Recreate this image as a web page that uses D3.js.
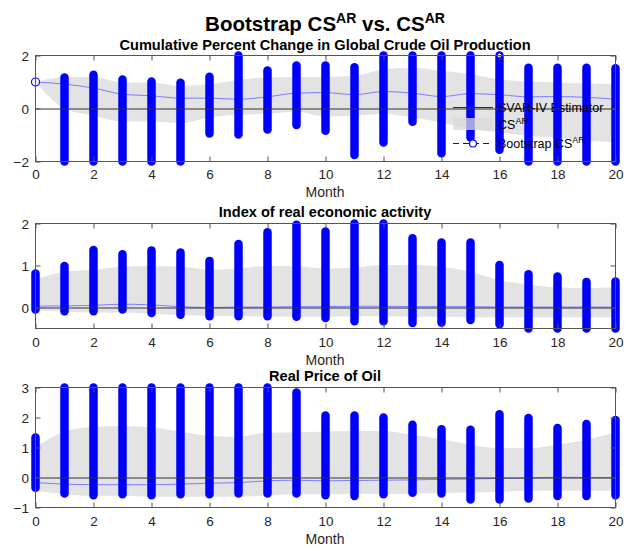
<!DOCTYPE html>
<html><head><meta charset="utf-8">
<script src="https://d3js.org/d3.v7.min.js"></script>
<style>body{margin:0;background:#fff;}svg{display:block;font-family:"Liberation Sans",Arial,Helvetica,sans-serif;}</style>
</head><body>
<svg id="c" width="626" height="551"></svg>
<script>
const months = d3.range(0, 21);
const xTicks = [0,2,4,6,8,10,12,14,16,18,20];

// Panel 1: Cumulative Percent Change in Global Crude Oil Production
const p1Title = "Cumulative Percent Change in Global Crude Oil Production";
const p1YTicks = [-2, 0, 2];
const p1Est = [1.0,0.92,0.77,0.54,0.48,0.39,0.39,0.35,0.44,0.58,0.60,0.52,0.64,0.58,0.45,0.56,0.52,0.44,0.45,0.42,0.35];
const p1BandHi = [1.0,1.18,1.19,0.98,0.98,0.85,0.92,1.08,1.17,1.19,1.2,1.23,1.48,1.54,1.42,1.29,1.1,1.02,0.98,0.94,0.92];
const p1BandLo = [1.0,0.0,-0.27,-0.49,-0.49,-0.55,-0.34,-0.24,-0.2,-0.12,-0.3,-0.27,-0.21,-0.34,-0.53,-0.78,-0.9,-1.03,-1.11,-1.21,-1.28];
const p1BootHi = [null,1.17,1.27,1.09,1.02,0.97,1.20,2.3,1.43,1.62,1.62,1.56,2.3,2.3,2.3,2.3,2.0,1.54,1.54,1.54,1.52];
const p1BootLo = [null,-2.5,-2.5,-2.5,-2.5,-2.5,-0.94,-0.98,-0.79,-0.62,-0.84,-1.75,-1.28,-0.5,-1.69,-1.09,-1.56,-2.5,-2.5,-2.5,-2.5];
const p1Points = [{m:0, v:1.0}, {m:16, v:2.0}];

// Panel 2: Index of real economic activity
const p2Title = "Index of real economic activity";
const p2YTicks = [0, 1, 2];
const p2Est = [0.03,0.04,0.05,0.08,0.06,0.02,0.0,0.01,0.01,0.02,0.02,0.03,0.03,0.02,0.02,0.02,0.01,0.01,0.01,0.01,0.01];
const p2BandHi = [0.67,0.85,0.9,0.97,0.98,0.97,0.9,0.93,0.99,0.98,0.93,0.95,1.01,1.01,0.97,0.85,0.65,0.55,0.48,0.46,0.48];
const p2BandLo = [-0.06,-0.1,-0.12,-0.12,-0.15,-0.18,-0.2,-0.2,-0.22,-0.22,-0.22,-0.21,-0.21,-0.22,-0.22,-0.23,-0.23,-0.23,-0.23,-0.23,-0.23];
const p2BootHi = [0.81,0.99,1.37,1.27,1.36,1.31,1.11,1.51,1.79,1.97,1.81,2.1,2.1,1.65,1.55,1.55,1.01,0.79,0.74,0.61,0.62];
const p2BootLo = [-0.05,-0.09,-0.09,-0.05,-0.13,-0.17,-0.21,-0.21,-0.21,-0.22,-0.25,-0.33,-0.33,-0.37,-0.36,-0.30,-0.40,-0.6,-0.6,-0.6,-0.6];

// Panel 3: Real Price of Oil
const p3Title = "Real Price of Oil";
const p3YTicks = [-1, 0, 1, 2, 3];
const p3Est = [-0.17,-0.22,-0.24,-0.24,-0.24,-0.22,-0.19,-0.17,-0.11,-0.09,-0.11,-0.1,-0.09,-0.08,-0.06,-0.05,-0.03,-0.02,0.01,0.0,0.0];
const p3BandHi = [1.0,1.53,1.69,1.72,1.67,1.53,1.39,1.36,1.5,1.5,1.53,1.55,1.55,1.42,1.28,1.09,0.98,0.98,1.09,1.26,1.5];
const p3BandLo = [-0.44,-0.56,-0.61,-0.61,-0.64,-0.64,-0.64,-0.64,-0.61,-0.56,-0.56,-0.55,-0.55,-0.54,-0.52,-0.5,-0.48,-0.44,-0.44,-0.44,-0.44];
const p3BootHi = [1.33,3.2,3.2,3.2,3.2,3.2,3.2,3.2,3.2,2.83,2.07,2.07,2.0,1.76,1.61,1.59,2.11,1.98,1.65,1.78,1.92];
const p3BootLo = [-0.34,-0.53,-0.59,-0.56,-0.59,-0.56,-0.56,-0.53,-0.53,-0.53,-0.59,-0.62,-0.56,-0.51,-0.53,-0.73,-0.73,-0.70,-0.62,-0.62,-0.59];

const legendLabels = ["SVAR-IV Estimator", "CS", "Bootstrap CS"];

const panels = [
  {title:p1Title, top:55, bottom:161, dom:[-2,2], ticks:p1YTicks, est:p1Est, hi:p1BandHi, lo:p1BandLo, bhi:p1BootHi, blo:p1BootLo, pts:p1Points, legend:true, titleY:50, tickY:178, labY:197},
  {title:p2Title, top:223, bottom:328, dom:[-0.5,2], ticks:p2YTicks, est:p2Est, hi:p2BandHi, lo:p2BandLo, bhi:p2BootHi, blo:p2BootLo, pts:[], legend:false, titleY:217, tickY:346, labY:365},
  {title:p3Title, top:387, bottom:507, dom:[-1,3], ticks:p3YTicks, est:p3Est, hi:p3BandHi, lo:p3BandLo, bhi:p3BootHi, blo:p3BootLo, pts:[], legend:false, titleY:381, tickY:525, labY:544}
];

const svg = d3.select("#c");
const x = d3.scaleLinear().domain([0,20]).range([35.5,615.5]);
const axisCol = "#555";
const textCol = "#262626";

// main title
const mt = svg.append("text").attr("x", 325).attr("y", 30.5).attr("text-anchor","middle")
  .attr("font-size", 20.5).attr("font-weight","bold").attr("fill","#000");
mt.append("tspan").text("Bootstrap CS");
mt.append("tspan").attr("dy",-7.5).attr("font-size",14).text("AR");
mt.append("tspan").attr("dy",7.5).text(" vs. CS");
mt.append("tspan").attr("dy",-7.5).attr("font-size",14).text("AR");

panels.forEach((p, pi) => {
  const y = d3.scaleLinear().domain(p.dom).range([p.bottom + 0.5, p.top + 0.5]).clamp(true);
  const g = svg.append("g");
  const cid = "clip" + pi;
  svg.append("clipPath").attr("id", cid).append("rect")
    .attr("x", x(0)).attr("y", p.top).attr("width", x(20)-x(0)).attr("height", p.bottom - p.top + 1);

  // band
  const area = d3.area().x((d,i)=>x(months[i])).y0((d,i)=>y(p.lo[i])).y1((d,i)=>y(p.hi[i])).curve(d3.curveMonotoneX);
  g.append("path").datum(p.hi).attr("d", area).attr("fill","#e3e3e3").attr("clip-path",`url(#${cid})`);
  // estimator line
  const line = d3.line().x((d,i)=>x(months[i])).y(d=>y(d)).curve(d3.curveMonotoneX);
  g.append("path").datum(p.est).attr("d", line).attr("fill","none").attr("stroke","#7d7dff").attr("stroke-width",1).attr("clip-path",`url(#${cid})`);

  // bootstrap bars
  g.selectAll("line.bar").data(months.filter(m => p.bhi[m] !== null)).enter().append("line")
    .attr("class","bar")
    .attr("x1", m => x(m)).attr("x2", m => x(m))
    .attr("y1", m => y(p.blo[m])).attr("y2", m => y(p.bhi[m]))
    .attr("stroke","#0000ff").attr("stroke-width",8.5).attr("stroke-linecap","round");

  // zero line
  g.append("line").attr("x1", x(0)).attr("x2", x(20)).attr("y1", Math.round(y(0))).attr("y2", Math.round(y(0)))
    .attr("stroke","#333").attr("stroke-width",1);

  // points
  p.pts.forEach(pt => {
    g.append("circle").attr("cx", x(pt.m)).attr("cy", y(pt.v)).attr("r", pt.m===0?4:2.5)
      .attr("fill", "#fff").attr("stroke","#0000ff").attr("stroke-width",1.2);
  });

  // axes box
  g.append("rect").attr("x", x(0)).attr("y", p.top+0.5).attr("width", x(20)-x(0)).attr("height", p.bottom-p.top)
    .attr("fill","none").attr("stroke",axisCol).attr("stroke-width",1);

  // x ticks (bottom & top, inward)
  const axB = d3.axisBottom(x).tickValues(xTicks).tickSizeInner(-5).tickSizeOuter(0).tickPadding(0).tickFormat(d3.format("d"));
  const gb = g.append("g").attr("transform",`translate(0,${p.bottom+0.5})`).call(axB);
  gb.select(".domain").remove();
  gb.selectAll(".tick line").attr("stroke",axisCol);
  gb.selectAll(".tick text").attr("y", p.tickY - p.bottom).attr("dy",0).attr("font-size",13.5).attr("fill",textCol).attr("font-family",null);
  const axT = d3.axisTop(x).tickValues(xTicks).tickSizeInner(-5).tickSizeOuter(0).tickFormat("");
  const gt = g.append("g").attr("transform",`translate(0,${p.top+0.5})`).call(axT);
  gt.select(".domain").remove();
  gt.selectAll(".tick line").attr("stroke",axisCol);

  // y ticks (left & right inward)
  const axL = d3.axisLeft(y).tickValues(p.ticks).tickSizeInner(-5).tickSizeOuter(0).tickPadding(0).tickFormat(d3.format("d"));
  const gl = g.append("g").attr("transform",`translate(${x(0)},0)`).call(axL);
  gl.select(".domain").remove();
  gl.selectAll(".tick line").attr("stroke",axisCol);
  gl.selectAll(".tick text").attr("x",-6.5).attr("dy","0.35em").attr("font-size",13.5).attr("fill",textCol).attr("font-family",null);
  const axR = d3.axisRight(y).tickValues(p.ticks).tickSizeInner(-5).tickSizeOuter(0).tickFormat("");
  const gr = g.append("g").attr("transform",`translate(${x(20)},0)`).call(axR);
  gr.select(".domain").remove();
  gr.selectAll(".tick line").attr("stroke",axisCol);

  // titles
  svg.append("text").attr("x",325).attr("y",p.titleY).attr("text-anchor","middle").attr("font-size",14.6)
    .attr("font-weight","bold").attr("fill","#000").text(p.title);
  svg.append("text").attr("x",325).attr("y",p.labY).attr("text-anchor","middle").attr("font-size",14)
    .attr("fill",textCol).text("Month");

  if (p.legend) {
    const lg = svg.append("g");
    const lx0 = 453, lx1 = 493, tx = 498;
    const rows = [107.5, 124, 143.5];
    lg.append("line").attr("x1",lx0).attr("x2",lx1).attr("y1",rows[0]).attr("y2",rows[0]).attr("stroke","#1a1a9a").attr("stroke-width",1);
    lg.append("rect").attr("x",lx0).attr("y",118).attr("width",lx1-lx0).attr("height",12).attr("fill","#d9d9d9").attr("opacity",0.75);
    lg.append("line").attr("x1",lx0).attr("x2",lx1).attr("y1",rows[2]).attr("y2",rows[2]).attr("stroke","#0000ff").attr("stroke-width",1).attr("stroke-dasharray","6,4");
    lg.append("circle").attr("cx",(lx0+lx1)/2).attr("cy",rows[2]).attr("r",3.5).attr("fill","#fff").attr("stroke","#0000ff").attr("stroke-width",1.2);
    legendLabels.forEach((lab, i) => {
      const t = lg.append("text").attr("x",tx).attr("y",rows[i]+4.5).attr("font-size",12.5).attr("fill","#000");
      t.append("tspan").text(lab);
      if (i > 0) t.append("tspan").attr("dy",-5).attr("font-size",9).text("AR");
    });
  }
});
</script>
</body></html>
